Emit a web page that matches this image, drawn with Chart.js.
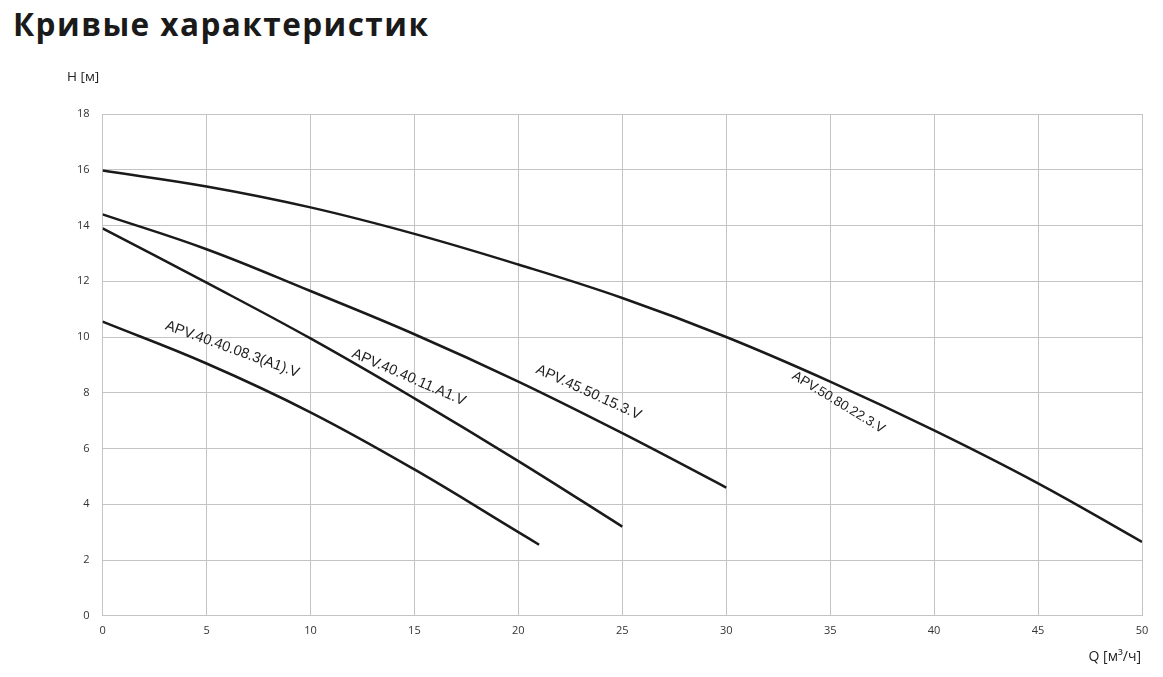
<!DOCTYPE html>
<html>
<head>
<meta charset="utf-8">
<script src="https://cdn.jsdelivr.net/npm/chart.js@4.4.0/dist/chart.umd.min.js"></script>
<style>
    html, body { margin: 0; padding: 0; background: #fff; }
    #wrap { position: relative; width: 1163px; height: 677px; }
    #title {
        position: absolute; left: 13px; top: 0px; margin: 0;
        font-family: "Open Sans", "Noto Sans", sans-serif; font-weight: 700;
        font-size: 31.5px; line-height: 48px; color: #1a1a1a; letter-spacing: 1.45px;
    }
    canvas { position: absolute; left: 0; top: 0; }
</style>
</head>
<body>
<div id="wrap">
    <h1 id="title">Кривые характеристик</h1>
    <canvas id="curveChart" width="1163" height="677"></canvas>
</div>
<script>
// pump curves: Q [m3/h] -> H [m]
const q1 = [0, 5, 10, 15, 20, 21];
const h1 = [10.55, 9.05, 7.3, 5.25, 3.0, 2.55];

const q2 = [0, 5, 10, 15, 20, 25];
const h2 = [13.9, 11.95, 9.95, 7.8, 5.55, 3.2];

const q3 = [0, 5, 10, 15, 20, 25, 30];
const h3 = [14.4, 13.15, 11.65, 10.1, 8.4, 6.55, 4.6];

const q4 = [0, 5, 10, 15, 20, 25, 30, 35, 40, 45, 50];
const h4 = [15.97, 15.4, 14.65, 13.7, 12.6, 11.4, 10.0, 8.4, 6.65, 4.75, 2.65];

const seriesNames = ['APV.40.40.08.3(A1).V', 'APV.40.40.11.A1.V', 'APV.45.50.15.3.V', 'APV.50.80.22.3.V'];
// label centres, in chart units
const labelQ = [6.24, 14.73, 23.38, 35.4];
const labelH = [9.56, 8.55, 8.01, 7.65];

const xTicks = [0, 5, 10, 15, 20, 25, 30, 35, 40, 45, 50];
const yTicks = [0, 2, 4, 6, 8, 10, 12, 14, 16, 18];

const xTitle = 'Q [м³/ч]';
const yTitle = 'H [м]';

function toPoints(qs, hs) {
    return qs.map((q, i) => ({ x: q, y: hs[i] }));
}

const labelAngles = [20, 23.5, 24.5, 31.5];

// draws curve names and the two axis captions
const labelPlugin = {
    id: 'curveLabels',
    afterDatasetsDraw(chart) {
        const ctx = chart.ctx;
        const xs = chart.scales.x;
        const ys = chart.scales.y;
        ctx.save();
        ctx.fillStyle = '#1e1e1e';
        ctx.textAlign = 'center';
        ctx.textBaseline = 'middle';
        seriesNames.forEach((name, i) => {
            const px = xs.getPixelForValue(labelQ[i]);
            const py = ys.getPixelForValue(labelH[i]);
            ctx.font = (i === 3 ? '13.5px' : '14.5px') + ' "Liberation Sans", Arial, sans-serif';
            ctx.save();
            ctx.translate(px, py);
            ctx.rotate(labelAngles[i] * Math.PI / 180);
            ctx.fillText(name, 0, 0);
            ctx.restore();
        });

        ctx.fillStyle = '#222';
        ctx.font = '13.5px "Open Sans", sans-serif';
        ctx.textAlign = 'left';
        ctx.fillText(yTitle, 67, 77);
        ctx.font = '14px "Open Sans", sans-serif';
        ctx.textAlign = 'right';
        ctx.fillText(xTitle, 1141, 657);
        ctx.restore();
    }
};

const lineStyle = {
    borderColor: '#1a1a1a',
    borderWidth: 2.5,
    pointRadius: 0,
    fill: false,
    tension: 0.4
};

const datasets = [
    { label: seriesNames[0], data: toPoints(q1, h1), ...lineStyle },
    { label: seriesNames[1], data: toPoints(q2, h2), ...lineStyle },
    { label: seriesNames[2], data: toPoints(q3, h3), ...lineStyle },
    { label: seriesNames[3], data: toPoints(q4, h4), ...lineStyle }
];

const tickFont = { family: '"Open Sans", sans-serif', size: 11 };

new Chart(document.getElementById('curveChart'), {
    type: 'line',
    data: { datasets: datasets },
    options: {
        responsive: false,
        animation: false,
        layout: { padding: { left: 64, right: 21, top: 114, bottom: 32 } },
        plugins: {
            legend: { display: false },
            tooltip: { enabled: false }
        },
        scales: {
            x: {
                type: 'linear',
                min: 0,
                max: 50,
                afterBuildTicks: axis => { axis.ticks = xTicks.map(v => ({ value: v })); },
                ticks: { color: '#333', font: tickFont, padding: 8, maxRotation: 0 },
                grid: { color: '#c4c4c4', lineWidth: 1, drawTicks: false },
                border: { color: '#c4c4c4' }
            },
            y: {
                min: 0,
                max: 18,
                afterBuildTicks: axis => { axis.ticks = yTicks.map(v => ({ value: v })); },
                ticks: { color: '#333', font: tickFont, padding: 13 },
                grid: { color: '#c4c4c4', lineWidth: 1, drawTicks: false },
                border: { color: '#c4c4c4' }
            }
        }
    },
    plugins: [labelPlugin]
});
</script>
</body>
</html>
